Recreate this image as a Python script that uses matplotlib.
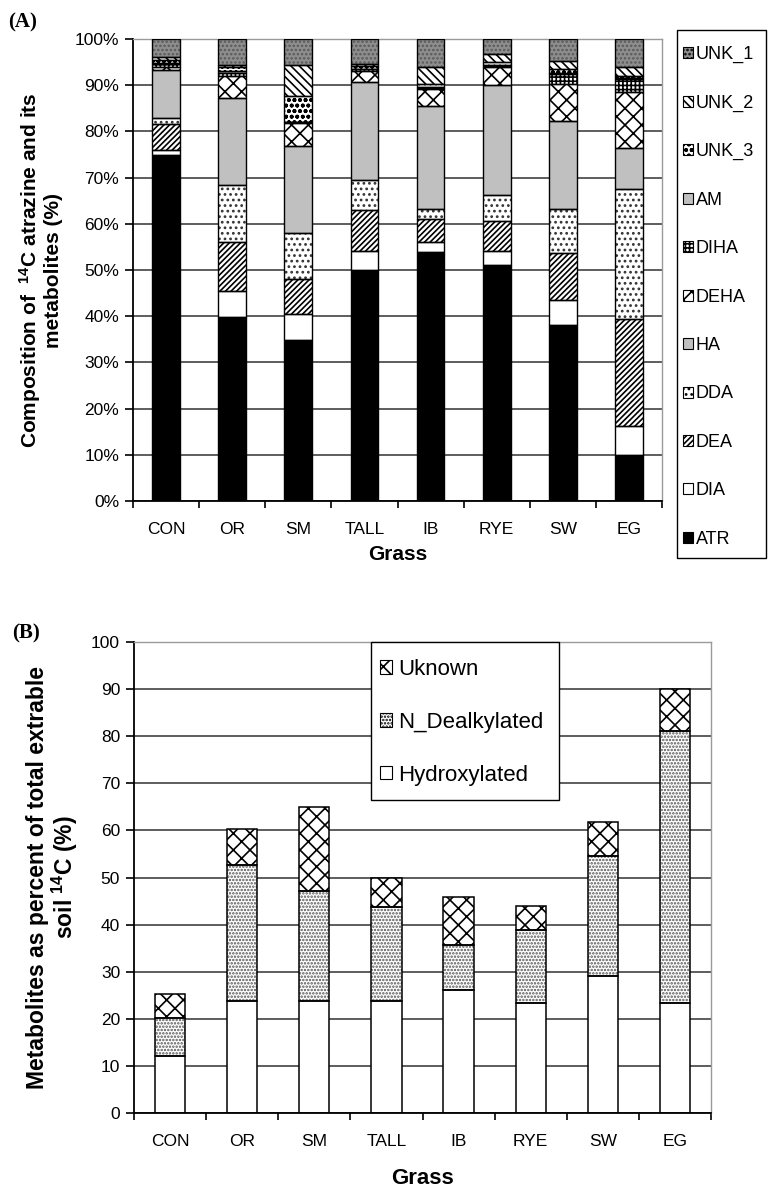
import numpy as np
import matplotlib
matplotlib.use("Agg")
import matplotlib.pyplot as plt
from matplotlib.patches import Patch, Rectangle

plt.rcParams['font.family'] = ['Liberation Sans', 'DejaVu Sans']
plt.rcParams['mathtext.fontset'] = 'custom'
plt.rcParams['mathtext.rm'] = 'Liberation Sans'
plt.rcParams['mathtext.bf'] = 'Liberation Sans:bold'
plt.rcParams['hatch.linewidth'] = 1.2

# ---------------- data ----------------
grasses = ["CON", "OR", "SM", "TALL", "IB", "RYE", "SW", "EG"]

# Panel A: composition (%) bottom -> top
ATR   = [75.0, 39.8, 34.9, 49.9, 54.0, 51.1, 38.0, 10.0]
DIA   = [1.0, 5.7, 5.6, 4.3, 2.0, 3.0, 5.6, 6.2]
DEA   = [5.5, 10.5, 7.5, 8.7, 5.1, 6.6, 10.0, 23.2]
DDA   = [1.4, 12.5, 10.1, 6.6, 2.1, 5.6, 9.7, 28.2]
HA    = [10.3, 18.7, 18.7, 21.2, 22.2, 23.7, 18.9, 8.8]
DEHA  = [0.8, 4.7, 5.0, 2.3, 3.7, 4.0, 8.0, 12.1]
DIHA  = [0.5, 0.8, 0.3, 0.4, 0.4, 0.2, 2.3, 2.8]
AM    = [0.3, 0.3, 0.0, 0.2, 0.2, 0.2, 0.2, 0.2]
UNK_3 = [0.6, 1.0, 5.6, 0.5, 0.5, 0.7, 0.9, 0.5]
UNK_2 = [0.8, 0.4, 6.6, 0.4, 3.8, 1.6, 1.7, 2.0]
UNK_1 = [3.8, 5.6, 5.7, 5.5, 6.0, 3.3, 4.7, 6.0]

# Panel B: metabolites as percent of total extractable soil 14C
hydroxylated   = [12.0, 23.8, 23.8, 23.8, 26.2, 23.4, 29.1, 23.4]
n_dealkylated  = [8.1, 28.9, 23.3, 19.9, 9.4, 15.4, 25.5, 57.6]
unknown        = [5.1, 7.6, 17.8, 6.3, 10.3, 5.2, 7.2, 9.1]

yticks_a = [0, 10, 20, 30, 40, 50, 60, 70, 80, 90, 100]
ytick_labels_a = [f"{v}%" for v in yticks_a]
yticks_b = [0, 10, 20, 30, 40, 50, 60, 70, 80, 90, 100]

# ---------------- styles ----------------
series_a = [
    ("ATR", ATR,   dict(fc="black", hatch=None, hc="black")),
    ("DIA", DIA,   dict(fc="white", hatch=None, hc="black")),
    ("DEA", DEA,   dict(fc="white", hatch="//////", hc="black")),
    ("DDA", DDA,   dict(fc="white", hatch="...", hc="#333333")),
    ("HA", HA,     dict(fc="#c0c0c0", hatch=None, hc="black")),
    ("DEHA", DEHA, dict(fc="white", hatch="xx", hc="black")),
    ("DIHA", DIHA, dict(fc="white", hatch="++++", hc="black")),
    ("AM", AM,     dict(fc="#c0c0c0", hatch=None, hc="black")),
    ("UNK_3", UNK_3, dict(fc="white", hatch="ooo", hc="black")),
    ("UNK_2", UNK_2, dict(fc="white", hatch="\\\\\\\\", hc="black")),
    ("UNK_1", UNK_1, dict(fc="#8e8e8e", hatch="....", hc="#5a5a5a")),
]

W, H = 775, 1193
fig = plt.figure(figsize=(W / 100, H / 100), dpi=100)

def px_axes(l, t, r, b):
    return fig.add_axes([l / W, 1 - b / H, (r - l) / W, (b - t) / H])

def style_axes(ax):
    ax.set_axisbelow(True)
    ax.yaxis.grid(True, color="#505050", linewidth=1.3)
    ax.xaxis.grid(False)
    for s in ("top", "right"):
        ax.spines[s].set_color("#9a9a9a")
        ax.spines[s].set_linewidth(1.0)
    for s in ("left", "bottom"):
        ax.spines[s].set_color("black")
        ax.spines[s].set_linewidth(1.3)
    ax.tick_params(axis="y", direction="out", length=6, width=1.2, labelsize=12.5, pad=4)
    # category boundaries carry the tick marks, centres carry the labels
    ax.set_xticks(np.arange(-0.5, 8.0, 1.0))
    ax.set_xticklabels([])
    ax.set_xticks(np.arange(8), minor=True)
    ax.set_xticklabels(grasses, minor=True)
    ax.tick_params(axis="x", which="major", direction="out", length=5, width=1.2)
    ax.tick_params(axis="x", which="minor", length=0, labelsize=12.5, pad=15)

x = np.arange(len(grasses))

# ---------------- Panel A ----------------
axA = px_axes(133, 39, 662, 501)
bw = 0.42
bottom = np.zeros(len(grasses))
handles_a = []
for name, vals, st in series_a:
    v = np.array(vals)
    axA.bar(x, v, bw, bottom=bottom, color=st["fc"], edgecolor=st["hc"],
            hatch=st["hatch"], linewidth=0, zorder=2)
    axA.bar(x, v, bw, bottom=bottom, fill=False, edgecolor="black",
            linewidth=1.0, zorder=3)
    bottom += v
    handles_a.append(Patch(facecolor=st["fc"], edgecolor="black", hatch=st["hatch"],
                           linewidth=0.8, label=name))
axA.set_xlim(-0.5, 7.5)
axA.set_ylim(0, 100)
axA.set_yticks(yticks_a)
axA.set_yticklabels(ytick_labels_a)
style_axes(axA)
axA.set_xlabel("Grass", fontsize=15, fontweight="bold", labelpad=6)
axA.set_ylabel("Composition of  $\\mathbf{^{14}}$C atrazine and its\nmetabolites (%)",
               fontsize=15, fontweight="bold", labelpad=8, linespacing=1.1)

# legend A: frame drawn separately so the padding can match
fig.patches.append(Rectangle((677 / W, 1 - 558 / H), 89 / W, 528 / H,
                             transform=fig.transFigure, facecolor="white",
                             edgecolor="black", linewidth=1.0, zorder=1))
legA = fig.legend(handles=handles_a[::-1], loc="upper left",
                  bbox_to_anchor=(683 / W, 1 - 46 / H),
                  frameon=False, fontsize=13,
                  handlelength=0.55, handleheight=0.55, handletextpad=0.15,
                  labelspacing=1.74, borderpad=0, borderaxespad=0)
legA.set_zorder(5)

fig.text(8 / W, 1 - 22 / H, "(A)", fontsize=15, fontweight="bold",
         family="Liberation Serif", va="center", ha="left")

# ---------------- Panel B ----------------
axB = px_axes(134, 642, 711, 1113)
bwb = 0.42
series_b = [
    ("Hydroxylated", hydroxylated, dict(fc="white", hatch=None, hc="black")),
    ("N_Dealkylated", n_dealkylated, dict(fc="white", hatch=".....", hc="#555555")),
    ("Uknown", unknown, dict(fc="white", hatch="xx", hc="black")),
]
bottom = np.zeros(len(grasses))
handles_b = []
for name, vals, st in series_b:
    v = np.array(vals)
    axB.bar(x, v, bwb, bottom=bottom, color=st["fc"], edgecolor=st["hc"],
            hatch=st["hatch"], linewidth=0, zorder=2)
    axB.bar(x, v, bwb, bottom=bottom, fill=False, edgecolor="black",
            linewidth=1.1, zorder=3)
    bottom += v
    handles_b.append(Patch(facecolor=st["fc"], edgecolor="black", hatch=st["hatch"],
                           linewidth=0.8, label=name))
axB.set_xlim(-0.5, 7.5)
axB.set_ylim(0, 100)
axB.set_yticks(yticks_b)
style_axes(axB)
axB.set_xlabel("Grass", fontsize=16, fontweight="bold", labelpad=14)
axB.set_ylabel("Metabolites as percent of total extrable\nsoil $\\mathbf{^{14}}$C (%)",
               fontsize=16.5, fontweight="bold", labelpad=8, linespacing=1.05)

fig.patches.append(Rectangle((371 / W, 1 - 800 / H), 188 / W, 158 / H,
                             transform=fig.transFigure, facecolor="white",
                             edgecolor="black", linewidth=1.0, zorder=1))
legB = fig.legend(handles=handles_b[::-1], loc="upper left",
                  bbox_to_anchor=(380 / W, 1 - 659 / H), frameon=False,
                  fontsize=16,
                  handlelength=0.55, handleheight=0.55, handletextpad=0.25,
                  labelspacing=1.43, borderpad=0, borderaxespad=0)
legB.set_zorder(5)

fig.text(12 / W, 1 - 633 / H, "(B)", fontsize=15, fontweight="bold",
         family="Liberation Serif", va="center", ha="left")

fig.savefig("out.png", dpi=100)
